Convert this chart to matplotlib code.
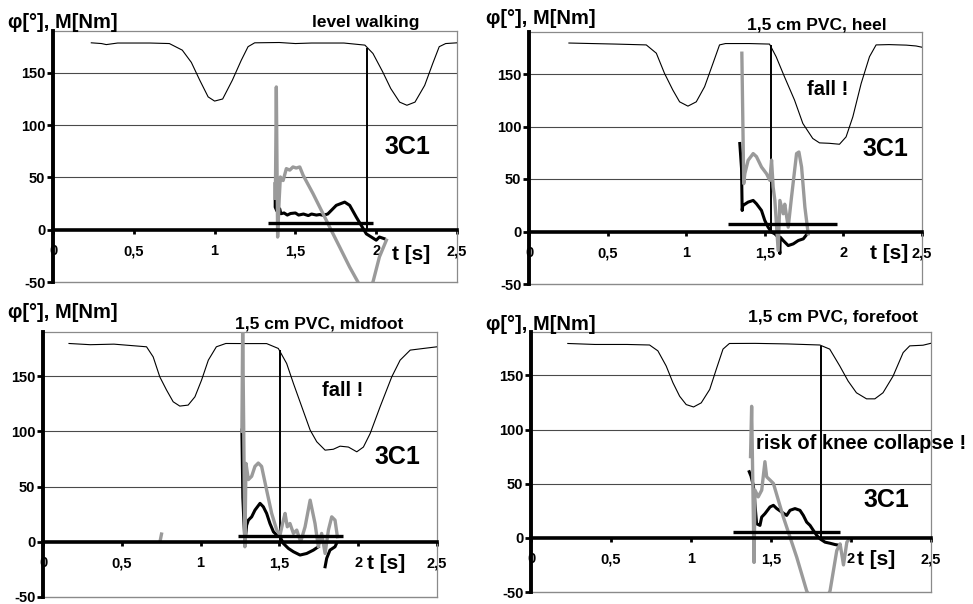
import matplotlib
matplotlib.use("Agg")
import matplotlib.pyplot as plt
import numpy as np

plt.rcParams['font.family'] = ['Liberation Sans', 'DejaVu Sans']
plt.rcParams['font.weight'] = 'bold'

# ---------------- data ----------------
x_ticks = [0, 0.5, 1, 1.5, 2, 2.5]
x_tick_labels = ["0", "0,5", "1", "1,5", "2", "2,5"]
y_ticks = [-50, 0, 50, 100, 150]
y_tick_labels = ["-50", "0", "50", "100", "150"]

titles = ["level walking", "1,5 cm PVC, heel", "1,5 cm PVC, midfoot", "1,5 cm PVC, forefoot"]
y_label = "φ[°], M[Nm]"
x_label = "t [s]"
code_label = "3C1"
notes = ["", "fall !", "fall !", "risk of knee collapse !"]

# Panel 1: level walking
p1_angle_t = [0.237, 0.30, 0.33, 0.40, 0.50, 0.60, 0.72, 0.80, 0.856, 0.908, 0.96, 1.0, 1.05, 1.11, 1.165, 1.207, 1.248, 1.40, 1.50, 1.60, 1.80, 1.93, 1.98, 2.04, 2.09, 2.145, 2.19, 2.24, 2.30, 2.35, 2.39, 2.43, 2.5]
p1_angle_v = [178.7, 178.0, 177.0, 178.5, 178.5, 178.5, 178.0, 171.7, 160.0, 143.0, 127.0, 123.0, 125.0, 143.0, 162.0, 175.0, 178.7, 179.0, 178.0, 178.5, 178.5, 176.5, 168.5, 151.0, 135.0, 122.0, 119.0, 122.0, 138.0, 159.0, 175.0, 178.0, 178.7]
p1_gray_t = [1.376, 1.382, 1.390, 1.400, 1.407, 1.424, 1.444, 1.465, 1.485, 1.505, 1.527, 1.548, 1.609, 1.671, 1.712, 1.774, 1.836, 1.887, 1.93, 1.98, 2.02, 2.063]
p1_gray_v = [30.0, 136.5, -7.0, 30.0, 50.4, 47.0, 58.4, 57.0, 60.0, 59.0, 60.0, 52.0, 34.5, 15.3, 2.5, -16.6, -35.8, -50.0, -62.0, -50.0, -26.0, -10.0]
p1_black_t = [1.375, 1.375, 1.385, 1.403, 1.41, 1.43, 1.45, 1.47, 1.50, 1.52, 1.55, 1.58, 1.60, 1.63, 1.65, 1.671, 1.70, 1.753, 1.805, 1.836, 1.877, 1.908, 1.939, 1.97, 2.0, 2.02, 2.05]
p1_black_v = [44.0, 21.6, 18.0, 20.0, 15.3, 16.0, 14.0, 15.5, 16.0, 14.0, 15.0, 13.5, 15.0, 14.0, 14.5, 13.8, 15.0, 23.3, 26.4, 23.3, 12.0, 4.0, -4.0, -7.0, -10.0, -7.0, -8.6]
p1_marker_t = 1.943
p1_marker_top = 174.0
p1_bar_t = [1.33, 1.98]
p1_bar_v = 6.3

# Panel 2: heel
p2_angle_t = [0.254, 0.40, 0.55, 0.746, 0.81, 0.862, 0.915, 0.958, 1.011, 1.064, 1.117, 1.17, 1.212, 1.25, 1.40, 1.53, 1.572, 1.625, 1.689, 1.742, 1.805, 1.848, 1.91, 1.975, 2.017, 2.06, 2.113, 2.166, 2.208, 2.29, 2.40, 2.462, 2.5]
p2_angle_v = [179.5, 179.0, 178.5, 177.7, 169.8, 150.6, 134.7, 123.5, 119.4, 123.5, 137.9, 160.0, 177.7, 179.0, 179.0, 178.5, 166.5, 147.4, 125.2, 102.9, 88.6, 84.4, 84.0, 83.1, 90.1, 109.2, 141.0, 166.5, 177.7, 178.0, 177.5, 176.7, 175.5]
p2_gray_t = [1.354, 1.366, 1.373, 1.394, 1.426, 1.447, 1.479, 1.511, 1.532, 1.543, 1.553, 1.564, 1.585, 1.596, 1.617, 1.627, 1.649, 1.670, 1.702, 1.717, 1.734, 1.755, 1.776]
p2_gray_v = [169.8, 45.6, 55.1, 67.8, 74.2, 71.3, 61.4, 55.0, 48.7, 68.0, 42.5, 29.6, -18.0, 29.6, 16.9, 26.0, 4.1, 32.8, 74.2, 75.7, 61.4, 23.2, -2.2]
p2_black_t = [1.341, 1.352, 1.356, 1.36, 1.394, 1.426, 1.447, 1.479, 1.50, 1.521, 1.543, 1.564, 1.585, 1.596, 1.598, 1.617, 1.649, 1.681, 1.713, 1.745, 1.77]
p2_black_v = [83.8, 60.0, 20.0, 24.7, 28.0, 29.6, 26.4, 20.0, 10.5, 4.1, -0.6, -2.2, -5.4, -21.0, -5.4, -8.6, -13.4, -11.8, -8.6, -7.0, -2.2]
p2_marker_t = 1.54
p2_marker_top = 177.7
p2_bar_t = [1.265, 1.96]
p2_bar_v = 7.3

# Panel 3: midfoot
p3_angle_t = [0.165, 0.30, 0.45, 0.657, 0.699, 0.741, 0.784, 0.826, 0.868, 0.921, 0.964, 1.006, 1.049, 1.10, 1.16, 1.30, 1.419, 1.493, 1.546, 1.589, 1.642, 1.695, 1.737, 1.79, 1.842, 1.885, 1.938, 1.991, 2.033, 2.076, 2.139, 2.213, 2.266, 2.33, 2.414, 2.5]
p3_angle_v = [179.6, 178.5, 179.0, 176.6, 167.5, 149.4, 137.4, 126.8, 122.9, 123.8, 131.3, 146.4, 164.5, 176.6, 179.6, 179.5, 179.5, 175.1, 161.5, 143.4, 122.3, 101.2, 90.6, 83.0, 83.8, 86.6, 85.8, 81.5, 85.8, 98.1, 122.3, 149.4, 164.5, 173.6, 175.1, 176.6]
p3_gray_t = [0.745, 0.752, np.nan, 1.262, 1.267, 1.281, 1.288, 1.303, 1.324, 1.345, 1.366, 1.387, 1.419, 1.451, 1.483, 1.504, 1.525, 1.536, 1.55, 1.567, 1.589, 1.61, 1.635, 1.663, 1.695, 1.726, 1.747, 1.768, 1.79, 1.811, 1.832, 1.853, 1.868]
p3_gray_v = [2.0, 7.0, np.nan, 100.0, 195.0, -4.5, 71.0, 56.3, 59.3, 68.3, 71.3, 68.3, 46.8, 25.7, 10.6, 6.1, 19.6, 25.7, 13.6, 16.6, 7.6, 10.6, 0.0, 13.6, 37.7, 16.6, -4.5, 7.6, -10.6, 10.6, 22.6, 19.6, 4.6]
p3_black_t = [1.262, 1.268, 1.281, 1.292, 1.303, 1.324, 1.345, 1.377, 1.398, 1.419, 1.44, 1.462, 1.483, 1.504, 1.525, 1.557, 1.589, 1.631, 1.673, 1.716, 1.747, np.nan, 1.79, 1.80, 1.821, 1.853, 1.864]
p3_black_v = [101.2, 40.0, -1.5, 15.0, 19.6, 22.6, 28.7, 34.8, 31.7, 25.7, 16.6, 9.1, 6.1, 4.6, -1.5, -6.0, -9.0, -12.0, -10.6, -7.5, -4.5, np.nan, -22.6, -15.0, -7.5, -4.5, -1.0]
p3_marker_t = 1.504
p3_marker_top = 173.6
p3_bar_t = [1.239, 1.904]
p3_bar_v = 5.2

# Panel 4: forefoot
p4_angle_t = [0.23, 0.40, 0.60, 0.741, 0.793, 0.845, 0.887, 0.929, 0.97, 1.016, 1.064, 1.117, 1.158, 1.20, 1.24, 1.40, 1.60, 1.805, 1.867, 1.93, 1.982, 2.034, 2.097, 2.149, 2.2, 2.263, 2.326, 2.367, 2.45, 2.5]
p4_angle_v = [179.4, 178.5, 178.5, 178.0, 172.6, 158.6, 143.2, 130.7, 123.0, 120.8, 124.6, 137.0, 155.6, 174.2, 179.4, 179.5, 179.0, 178.0, 174.2, 158.6, 144.7, 133.9, 128.3, 128.3, 133.9, 149.3, 171.0, 177.2, 177.8, 179.6]
p4_gray_t = [1.372, 1.379, 1.394, 1.40, 1.42, 1.442, 1.462, 1.473, 1.494, 1.515, 1.546, 1.577, 1.619, 1.661, 1.692, 1.723, 1.80, 1.869, 1.89, 1.911, 1.932, 1.953, 1.974, 1.982]
p4_gray_v = [75.0, 121.4, -22.7, 44.0, 37.8, 44.0, 70.3, 56.3, 53.3, 50.2, 34.7, 19.2, 0.6, -18.0, -33.5, -49.0, -70.0, -49.0, -30.4, -11.8, -5.6, -25.0, -4.0, -2.5]
p4_black_t = [1.364, 1.375, 1.39, 1.41, 1.431, 1.442, 1.462, 1.494, 1.515, 1.536, 1.567, 1.598, 1.619, 1.65, 1.681, 1.702, 1.723, 1.744, 1.765, 1.786, 1.807, 1.838, 1.869, 1.90, 1.932]
p4_black_v = [61.0, 57.0, 48.0, 13.0, 11.5, 19.2, 22.3, 28.5, 30.0, 27.0, 23.8, 20.7, 25.4, 27.0, 25.4, 20.7, 14.5, 11.5, 6.8, 2.2, -1.0, -4.0, -5.0, -6.2, -7.0]
p4_marker_t = 1.815
p4_marker_top = 176.7
p4_bar_t = [1.262, 1.93]
p4_bar_v = 5.2

panels = [
    dict(angle=(p1_angle_t, p1_angle_v), gray=(p1_gray_t, p1_gray_v), black=(p1_black_t, p1_black_v),
         marker=(p1_marker_t, p1_marker_top), bar=(p1_bar_t, p1_bar_v)),
    dict(angle=(p2_angle_t, p2_angle_v), gray=(p2_gray_t, p2_gray_v), black=(p2_black_t, p2_black_v),
         marker=(p2_marker_t, p2_marker_top), bar=(p2_bar_t, p2_bar_v)),
    dict(angle=(p3_angle_t, p3_angle_v), gray=(p3_gray_t, p3_gray_v), black=(p3_black_t, p3_black_v),
         marker=(p3_marker_t, p3_marker_top), bar=(p3_bar_t, p3_bar_v)),
    dict(angle=(p4_angle_t, p4_angle_v), gray=(p4_gray_t, p4_gray_v), black=(p4_black_t, p4_black_v),
         marker=(p4_marker_t, p4_marker_top), bar=(p4_bar_t, p4_bar_v)),
]

# ---------------- layout ----------------
W, H = 973, 604
fig = plt.figure(figsize=(W / 100, H / 100), dpi=100)
fig.patch.set_facecolor('white')

# axes boxes in pixels: left, right, top, bottom
boxes = [(53, 457, 31, 282), (529, 922, 32, 284), (43, 437, 332, 597), (531, 931, 332, 592)]
ylabel_pos = [(8, 23), (486, 18), (8, 313), (486, 325)]
title_pos = [(366, 22), (817, 25), (319, 324), (833, 317)]
note_pos = [None, (1.77, 135), (1.77, 137), (1.405, 87)]
code_pos = [(2.05, 79), (2.12, 79), (2.105, 77), (2.075, 35)]
tlabel_pos = [(2.095, -24), (2.17, -21), (2.055, -20), (2.04, -20)]

for i, p in enumerate(panels):
    l, r, t, b = boxes[i]
    ax = fig.add_axes([l / W, 1 - b / H, (r - l) / W, (b - t) / H])
    ax.set_xlim(0, 2.5)
    ax.set_ylim(-50, 190)

    for y in [50, 100, 150]:
        ax.axhline(y, color='#4a4a4a', lw=0.8, zorder=1)
    ax.axhline(-50, color='#8a8a8a', lw=1.0, zorder=1, clip_on=False)

    at, av = p['angle']
    ax.plot(at, av, color='black', lw=0.8, zorder=3)
    mt, mtop = p['marker']
    ax.vlines(mt, 0, mtop, color='black', lw=1.4, zorder=3)
    bt, bv = p['black']
    ax.plot(bt, bv, color='black', lw=2.2, zorder=4, solid_joinstyle='round')
    gt, gv = p['gray']
    ax.plot(gt, gv, color='#9a9a9a', lw=2.4, zorder=5, solid_joinstyle='round')
    bart, barv = p['bar']
    ax.hlines(barv, bart[0], bart[1], color='black', lw=2.4, zorder=6)

    # spines
    ax.spines['left'].set_linewidth(2.8)
    ax.spines['left'].set_color('black')
    ax.spines['left'].set_zorder(7)
    ax.spines['bottom'].set_position(('data', 0))
    ax.spines['bottom'].set_linewidth(2.6)
    ax.spines['bottom'].set_color('black')
    ax.spines['bottom'].set_zorder(7)
    for s in ['top', 'right']:
        ax.spines[s].set_linewidth(0.9)
        ax.spines[s].set_color('#8a8a8a')

    ax.set_xticks(x_ticks)
    ax.set_xticklabels(x_tick_labels, fontsize=10.5, fontweight='bold')
    ax.set_yticks(y_ticks)
    ax.set_yticklabels(y_tick_labels, fontsize=10.5, fontweight='bold')
    ax.tick_params(axis='x', direction='out', length=3, width=2, pad=7.5)
    ax.tick_params(axis='y', direction='out', length=4, width=2, pad=1.5)

    ax.text(code_pos[i][0], code_pos[i][1], code_label, fontsize=18, fontweight='bold',
            ha='left', va='center', zorder=8)
    ax.text(tlabel_pos[i][0], tlabel_pos[i][1], x_label, fontsize=15, fontweight='bold',
            ha='left', va='center', zorder=8)
    if note_pos[i] is not None:
        ax.text(note_pos[i][0], note_pos[i][1], notes[i], fontsize=14.5, fontweight='bold',
                ha='left', va='center', zorder=2, clip_on=False)

    fig.text(ylabel_pos[i][0] / W, 1 - ylabel_pos[i][1] / H, y_label, fontsize=14.5,
             fontweight='bold', ha='left', va='center')
    fig.text(title_pos[i][0] / W, 1 - title_pos[i][1] / H, titles[i], fontsize=12.5,
             fontweight='bold', ha='center', va='center')

fig.savefig('out.png', dpi=100)
